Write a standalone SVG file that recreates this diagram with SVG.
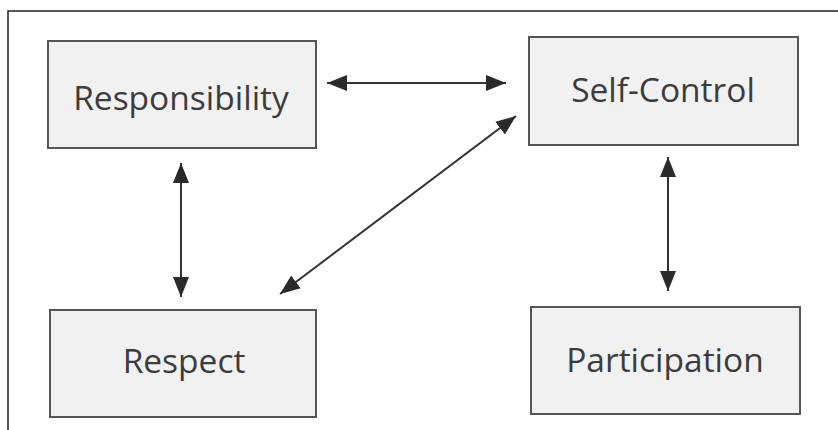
<svg xmlns="http://www.w3.org/2000/svg" width="838" height="430" viewBox="0 0 838 430">
<style>
.box{fill:#f1f1f1;stroke:#555;stroke-width:2}
.lbl{font-family:"Open Sans","Noto Sans",sans-serif;font-size:33.5px;fill:#3c3c3c;text-anchor:middle}
.con{stroke:#333;stroke-width:2;fill:none;marker-start:url(#ah);marker-end:url(#ah)}
</style>
<defs>
<marker id="ah" viewBox="0 0 20 16" refX="20" refY="8" markerWidth="20" markerHeight="16" markerUnits="userSpaceOnUse" orient="auto-start-reverse">
<path d="M0,0 L20,8 L0,16 z" fill="#2a2a2a"/>
</marker>
</defs>
<rect width="838" height="430" fill="#fff"/>
<path d="M8,430 V11 H838" stroke="#222" stroke-width="1.5" fill="none"/>
<g id="responsibility"><rect class="box" x="48" y="41" width="268" height="107"/><text class="lbl" x="181" y="110">Responsibility</text></g>
<g id="self-control"><rect class="box" x="529" y="37" width="269" height="108"/><text class="lbl" x="663" y="102">Self-Control</text></g>
<g id="respect"><rect class="box" x="50" y="310" width="266" height="107"/><text class="lbl" x="184" y="373">Respect</text></g>
<g id="participation"><rect class="box" x="531" y="307" width="269" height="107"/><text class="lbl" x="665" y="372">Participation</text></g>
<g id="connectors">
<line class="con" x1="327" y1="83" x2="506" y2="83"/>
<line class="con" x1="181" y1="163" x2="181" y2="297"/>
<line class="con" x1="516" y1="116" x2="280" y2="294"/>
<line class="con" x1="668" y1="157" x2="668" y2="291"/>
</g>
</svg>
